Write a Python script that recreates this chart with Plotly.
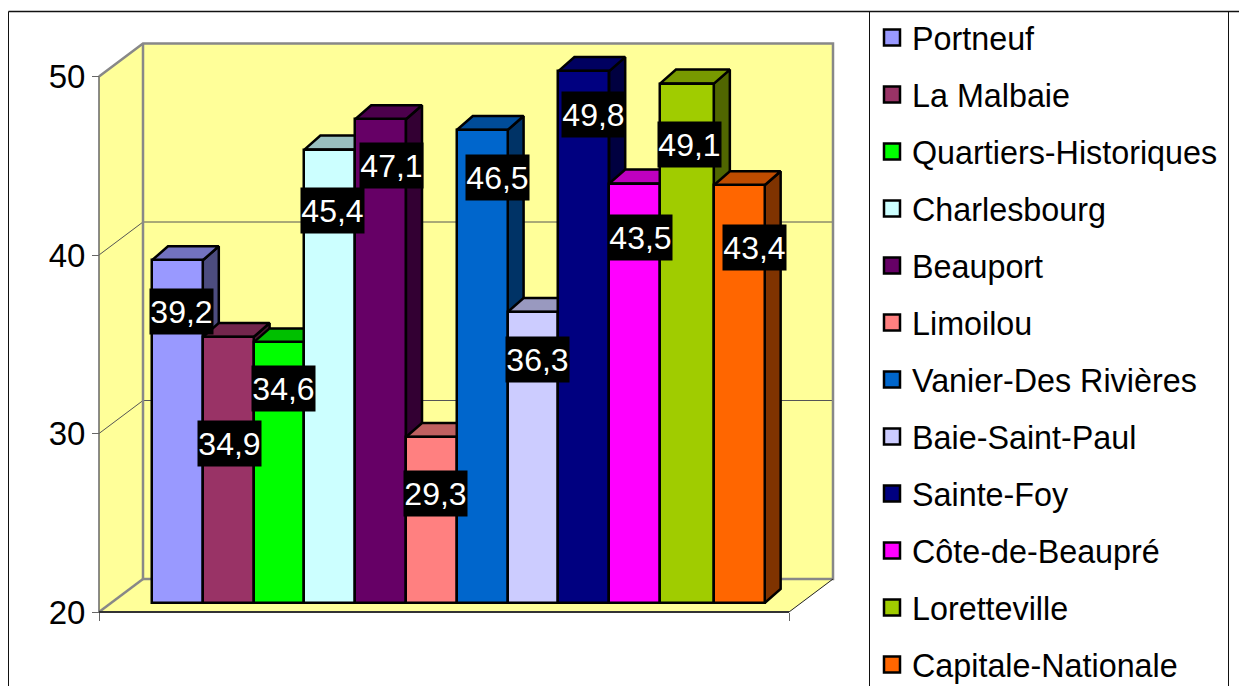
import plotly.graph_objects as go

# ---- data ----
categories = ["Portneuf", "La Malbaie", "Quartiers-Historiques", "Charlesbourg", "Beauport", "Limoilou",
              "Vanier-Des Rivières", "Baie-Saint-Paul", "Sainte-Foy", "Côte-de-Beaupré", "Loretteville",
              "Capitale-Nationale"]
values = [39.2, 34.9, 34.6, 45.4, 47.1, 29.3, 46.5, 36.3, 49.8, 43.5, 49.1, 43.4]
value_ticks = [20, 30, 40, 50]

# ---- styles ----
colors = ["#9999FF", "#993366", "#00FF00", "#CCFFFF", "#660066", "#FF8080",
          "#0066CC", "#CCCCFF", "#000080", "#FF00FF", "#A0CC00", "#FF6600"]
slot_widths = [1, 1, 1, 1, 1, 1, 1, 1, 1, 1, 1.06, 1]
label_dx = [4, 1, 4, 3, 11, 4, 15, 4, 10, 6, 3, 15]
label_dy = [-42, -97, -37, -52, -37, -47, -39, -38, -34, -45, -52, -53]

W, H = 1239, 686
FONT = "Liberation Sans"
Y0_PX, PX_PER_UNIT = 612, 17.85      # value-axis scale
X0_PX, SLOT_PX = 152, 50.8           # bar-slot scale
BAR_LIFT = 9                         # bars stand inside the box depth
DEPTH_X, DEPTH_Y = 16, 14            # bar depth
BOX_X, BOX_Y = 44, 33                # box depth
AX_L, AX_R = 99, 789


def xv(px):
    return (px - X0_PX) / SLOT_PX


def yv(px):
    return 20 + (Y0_PX - px) / PX_PER_UNIT


def shade(hex_color, k):
    r, g, b = (int(hex_color[i:i + 2], 16) for i in (1, 3, 5))
    return f"rgb({int(r * k)},{int(g * k)},{int(b * k)})"


fig = go.Figure()


def poly(xs, ys, fill, line="rgba(0,0,0,0)", width=0):
    fig.add_trace(go.Scatter(x=xs, y=ys, mode="lines", fill="toself", fillcolor=fill,
                             line=dict(color=line, width=width), showlegend=False, hoverinfo="skip"))


def seg(xs, ys, color, width):
    fig.add_trace(go.Scatter(x=xs, y=ys, mode="lines", line=dict(color=color, width=width),
                             showlegend=False, hoverinfo="skip"))


# box: side wall, floor, back wall
v_lo, v_hi = value_ticks[0], value_ticks[-1]
bx, by = BOX_X / SLOT_PX, BOX_Y / PX_PER_UNIT
xl, xr = xv(AX_L), xv(AX_R)
WALL = "#FFFF99"
poly([xl, xl + bx, xl + bx, xl, xl], [v_lo, v_lo + by, v_hi + by, v_hi, v_lo], WALL)
poly([xl, xr, xr + bx, xl + bx, xl], [v_lo, v_lo, v_lo + by, v_lo + by, v_lo], WALL)
poly([xl + bx, xr + bx, xr + bx, xl + bx, xl + bx], [v_lo + by, v_lo + by, v_hi + by, v_hi + by, v_lo + by], WALL)
for t in value_ticks[1:-1]:
    seg([xl, xl + bx, xr + bx], [t, t + by, t + by], "#555555", 1)
GRAY = "#888888"
seg([xl, xl + bx, xr + bx, xr + bx, xl + bx, xl + bx], [v_hi, v_hi + by, v_hi + by, v_lo + by, v_lo + by, v_hi + by], GRAY, 2.5)
seg([xl, xl + bx], [v_lo, v_lo + by], GRAY, 2.5)
seg([xl, xl], [v_lo, v_hi], "#666666", 1.5)
seg([xr, xr + bx], [v_lo, v_lo + by], "#222222", 1)
seg([xl, xr], [v_lo, v_lo], "#333333", 2)

# slot edges along the category scale
edges = [0]
for w in slot_widths:
    edges.append(edges[-1] + w)
centers = [(edges[i] + edges[i + 1]) / 2 for i in range(len(values))]

# bar side and top faces, computed from the values
lift = BAR_LIFT / PX_PER_UNIT
dx, dy = DEPTH_X / SLOT_PX, DEPTH_Y / PX_PER_UNIT
for i, v in enumerate(values):
    L, R = edges[i], edges[i + 1]
    b, t = v_lo + lift, v + lift
    poly([R, R + dx, R + dx, R, R], [b, b + dy, t + dy, t, b], shade(colors[i], 0.5), "#000000", 2.5)
    poly([L, R, R + dx, L + dx, L], [t, t, t + dy, t + dy, t], shade(colors[i], 0.75), "#000000", 2.5)

# front faces
fig.add_trace(go.Bar(x=centers, y=[v - v_lo for v in values], base=v_lo, width=slot_widths,
                     marker=dict(color=colors, line=dict(color="#000000", width=2.5)),
                     xaxis="x2", yaxis="y2", showlegend=False, hoverinfo="skip"))

# legend
for name, c in zip(categories, colors):
    fig.add_trace(go.Scatter(x=[None], y=[None], mode="markers", name=name, legendgroup=name,
                             marker=dict(symbol="square", size=16, color=c, line=dict(color="#000000", width=2.5))))

annotations = [
    dict(x=centers[i], y=v, xref="x", yref="y", text=f"{v:.1f}".replace(".", ","), showarrow=False,
         xshift=label_dx[i], yshift=label_dy[i], bgcolor="#000000", width=63, height=45, borderpad=0,
         font=dict(family=FONT, size=32, color="#FFFFFF"))
    for i, v in enumerate(values)
]

frame = dict(type="line", xref="paper", yref="paper", line=dict(color="#111111", width=1))
shapes = [
    dict(frame, x0=8.5 / W, x1=1, y0=1 - 11.5 / H, y1=1 - 11.5 / H, line=dict(color="#111111", width=1.5)),
    dict(frame, x0=8.5 / W, x1=8.5 / W, y0=0, y1=1 - 11.5 / H),
    dict(frame, x0=869.5 / W, x1=869.5 / W, y0=0, y1=1 - 11.5 / H),
    dict(frame, x0=1228.5 / W, x1=1228.5 / W, y0=0, y1=1 - 11.5 / H),
]

fig.update_layout(
    width=W, height=H, margin=dict(l=0, r=0, t=0, b=0, autoexpand=False),
    paper_bgcolor="#FFFFFF", plot_bgcolor="#FFFFFF",
    font=dict(family=FONT, size=32, color="#000000"), hovermode=False, bargap=0,
    xaxis=dict(range=[xv(0), xv(W)], domain=[0, 1], anchor="free", position=(H - Y0_PX) / H, showgrid=False,
               zeroline=False, showline=False, tickmode="array", tickvals=[xl, xr], showticklabels=False,
               ticks="outside", ticklen=8, tickcolor="#666666", tickwidth=1),
    yaxis=dict(range=[yv(H), yv(0)], domain=[0, 1], anchor="free", position=AX_L / W, showgrid=False,
               zeroline=False, showline=False, tickmode="array", tickvals=value_ticks, ticks="outside",
               ticklen=7, tickcolor="#666666", tickwidth=1,
               tickfont=dict(family=FONT, size=33, color="#000000")),
    xaxis2=dict(range=[xv(0), xv(W)], overlaying="x", visible=False),
    yaxis2=dict(range=[yv(H + BAR_LIFT), yv(BAR_LIFT)], overlaying="y", visible=False),
    legend=dict(x=872 / W, xanchor="left", y=1 - 10 / H, yanchor="top", bgcolor="rgba(0,0,0,0)",
                tracegroupgap=12, itemsizing="trace", font=dict(family=FONT, size=32.3, color="#000000"),
                traceorder="grouped", maxheight=800),
    annotations=annotations, shapes=shapes,
)

fig.write_html("out.html", post_script="document.body.style.margin='0';",
               config=dict(displayModeBar=False))
